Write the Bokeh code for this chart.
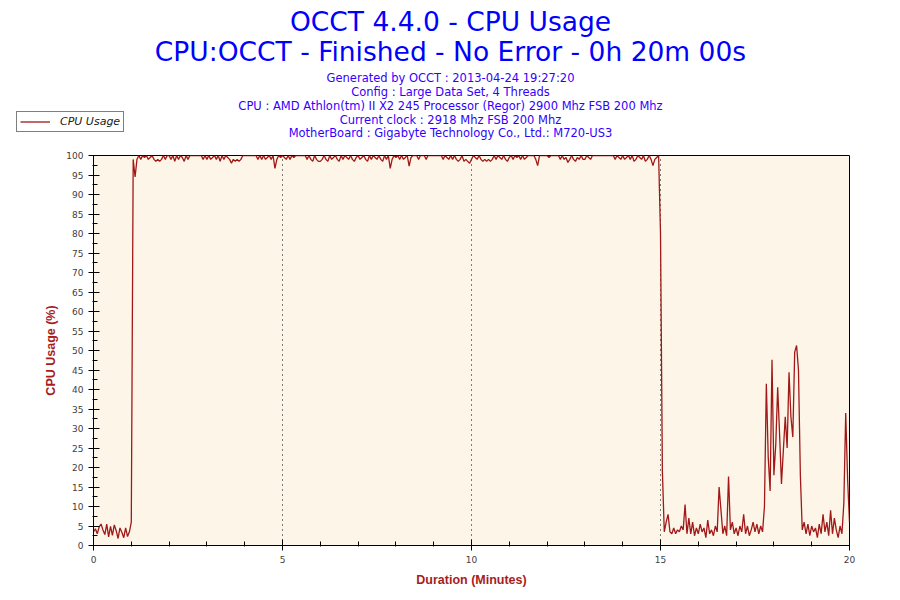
import numpy as np
from bokeh.plotting import figure
from bokeh.layouts import column
from bokeh.models import ColumnDataSource, Range1d, SingleIntervalTicker, Label
from bokeh.embed import file_html
from bokeh.resources import INLINE

# one sample every 3 seconds
sample_seconds = 3

# 0.00 - 1.00 min : idle before the test
usage_warmup = [3.5, 4.3, 3.0, 4.8, 5.5, 4.0, 2.8, 5.5, 2.2, 4.9,
                2.6, 5.3, 3.8, 1.8, 4.5, 3.4, 2.0, 4.5, 2.3, 3.5, 6.0]

# 1.05 - 14.95 min : OCCT load
usage_load = [
    99, 94.5, 99, 100, 99, 100, 99.5, 100, 99, 99.5, 100, 99, 98.5, 99, 98.5, 99, 100, 99, 100,
    100, 99, 100, 98.5, 100, 99, 100, 99.5, 98.5, 100, 99, 100, 100, 100, 100, 100, 100, 100, 99, 100,
    99, 100, 99, 99.5, 100, 99, 100, 98.5, 100, 99, 100, 99.5, 99, 98, 99, 98.5, 99, 98.5, 99, 100,
    100, 100, 100, 100, 100, 100, 100, 99, 100, 99, 100, 99, 99.5, 100, 99, 100, 96.7, 99, 100, 99.5,
    100, 99.5, 99, 100, 99, 100, 99.5, 100, 100, 100, 100, 100, 100, 99, 100, 99, 98.5, 100, 99, 98.5,
    98.5, 99, 100, 99, 98.5, 100, 99, 99.5, 100, 99, 98.5, 100, 99, 100, 99.5, 99, 100, 99, 98.5, 99.5,
    100, 99, 99.5, 100, 99, 98.5, 100, 99, 100, 99.5, 99, 100, 99, 98.5, 100, 99, 100, 96.7, 99, 100,
    99.5, 100, 99, 100, 99, 99.5, 100, 97.3, 99.5, 100, 100, 100, 99, 100, 100, 100, 99, 100, 100, 100,
    100, 100, 100, 100, 100, 99, 100, 99.5, 99, 100, 99, 100, 99, 98.5, 99, 100, 98.5, 99, 98.5, 98,
    99, 100, 99.5, 99, 100, 99, 98.5, 99, 98.5, 99, 98.5, 99, 100, 99, 100, 99.5, 99, 100, 99, 98.5,
    99.5, 100, 99, 100, 99.5, 100, 99, 100, 99, 99.5, 100, 100, 100, 100, 99, 97.4, 100, 100, 100, 100,
    100, 99.5, 100, 100, 100, 100, 100, 99, 100, 99, 99.5, 98.2, 99, 100, 99, 98.5, 99.5, 99, 100, 99,
    99, 100, 99.5, 99, 100, 100, 100, 100, 100, 100, 100, 100, 100, 100, 100, 100, 99, 100, 99.5, 99,
    100, 99, 99.5, 100, 99, 100, 98.5, 99, 100, 99.5, 99, 100, 98.5, 99, 100, 99, 97.4, 99, 99.5, 100,
]

# 15.00 - 20.00 min : after the test
usage_cooldown = [
    80, 19, 3.5, 6, 8, 3.5, 3, 4.5, 3, 4,
    3.5, 5, 4, 10.5, 3, 7, 3, 6, 2.5, 4.5,
    3, 5.5, 3.5, 4.5, 2, 6.5, 3, 4, 2.5, 5,
    3.5, 15, 9, 3, 5, 2.5, 17.7, 4, 6, 3,
    4.5, 2.5, 5, 3.5, 8, 3, 5, 2.5, 4, 6,
    3.5, 5.5, 3, 5, 3.5, 10, 41.5, 22.6, 14, 47.6,
    18, 26, 40.6, 28.6, 15.8, 24.4, 33, 25, 44.4, 33,
    27.8, 49.6, 51.3, 45, 18, 4, 6, 3, 5.5, 2.5,
    5, 3.5, 4.5, 2, 5.5, 3, 8, 3.5, 6, 2.5,
    9, 3, 7, 4, 2, 5, 3, 10.8, 34, 17,
    6,
]

title_lines = ["OCCT 4.4.0 - CPU Usage",
               "CPU:OCCT - Finished - No Error - 0h 20m 00s"]
info_lines = ["Generated by OCCT : 2013-04-24 19:27:20",
              "Config : Large Data Set, 4 Threads",
              "CPU : AMD Athlon(tm) II X2 245 Processor (Regor) 2900 Mhz FSB 200 Mhz",
              "Current clock : 2918 Mhz FSB 200 Mhz",
              "MotherBoard : Gigabyte Technology Co., Ltd.: M720-US3"]

usage = usage_warmup + usage_load + usage_cooldown
minutes = np.arange(len(usage)) * sample_seconds / 60.0
src = ColumnDataSource(data=dict(minutes=minutes, usage=usage))

LINE_COLOR = "#A01818"

# header: titles + legend, pixel coordinates (y downwards)
head = figure(width=900, height=145, x_range=Range1d(0, 900), y_range=Range1d(145, 0),
              x_axis_type=None, y_axis_type=None, min_border=0, frame_align=False,
              output_backend="svg", toolbar_location=None,
              outline_line_color=None, background_fill_color="white", border_fill_color="white")
head.grid.visible = False

for txt, y in zip(title_lines, [20.7, 50.7]):
    head.add_layout(Label(x=450, y=y, text=txt, text_align="center", text_baseline="alphabetic",
                          text_font="DejaVu Sans", text_font_size="26.5px", text_color="#0000FF"))
for txt, y in zip(info_lines, [77.5, 91.5, 105.8, 119.2, 132.5]):
    head.add_layout(Label(x=450, y=y, text=txt, text_align="center", text_baseline="alphabetic",
                          text_font="DejaVu Sans", text_font_size="11.5px", text_color="#3300FF"))

# hidden copy of the series, only used to draw the legend entry
key = head.line("minutes", "usage", source=src, line_color=LINE_COLOR, line_width=1.3,
                legend_label="CPU Usage", visible=False)
head.legend.location = (16, 13)
head.legend.inactive_fill_alpha = 0
head.legend.label_text_font = "DejaVu Sans"
head.legend.label_text_font_style = "italic"
head.legend.label_text_font_size = "11px"
head.legend.label_text_color = "#202020"
head.legend.glyph_width = 30
head.legend.glyph_height = 11
head.legend.padding = 3
head.legend.margin = 0
head.legend.spacing = 0
head.legend.label_standoff = 10
head.legend.label_height = 11
head.legend.border_line_color = "black"
head.legend.border_line_width = 1
head.legend.background_fill_color = "white"
head.legend.background_fill_alpha = 1
head.legend.click_policy = "none"

# main chart
p = figure(frame_width=756, frame_height=390, frame_align=False,
           min_border_left=93, min_border_right=51, min_border_top=10, min_border_bottom=55,
           x_range=Range1d(0, 20), y_range=Range1d(0, 100),
           output_backend="svg", toolbar_location=None,
           background_fill_color="#FDF6E8", border_fill_color="white",
           outline_line_color="black", outline_line_width=1)

p.line("minutes", "usage", source=src, line_color=LINE_COLOR, line_width=1.3)

p.xaxis.ticker = SingleIntervalTicker(interval=5, num_minor_ticks=5)
p.yaxis.ticker = SingleIntervalTicker(interval=5, num_minor_ticks=2)
p.xaxis.axis_label = "Duration (Minutes)"
p.yaxis.axis_label = "CPU Usage (%)"
for ax in [p.xaxis[0], p.yaxis[0]]:
    ax.axis_label_text_font = "Liberation Sans"
    ax.axis_label_text_font_style = "bold"
    ax.axis_label_text_font_size = "12.5px"
    ax.axis_label_text_color = "#A81C1C"
    ax.major_label_text_font = "DejaVu Sans"
    ax.major_label_text_font_size = "9px"
    ax.major_label_text_color = "#404040"
    ax.axis_line_color = "black"
    ax.major_tick_line_color = "black"
    ax.minor_tick_line_color = "black"
    ax.major_tick_in = 6
    ax.major_tick_out = 5
    ax.minor_tick_in = 4
    ax.minor_tick_out = 1
    ax.major_label_standoff = 5
p.xaxis.axis_label_standoff = 7
p.yaxis.axis_label_standoff = 5

p.ygrid.visible = False
p.xgrid.ticker = SingleIntervalTicker(interval=5)
p.xgrid.grid_line_color = "black"
p.xgrid.grid_line_dash = "1 4"

layout = column(head, p, spacing=0)
open("out.html", "w").write(file_html(layout, INLINE))
